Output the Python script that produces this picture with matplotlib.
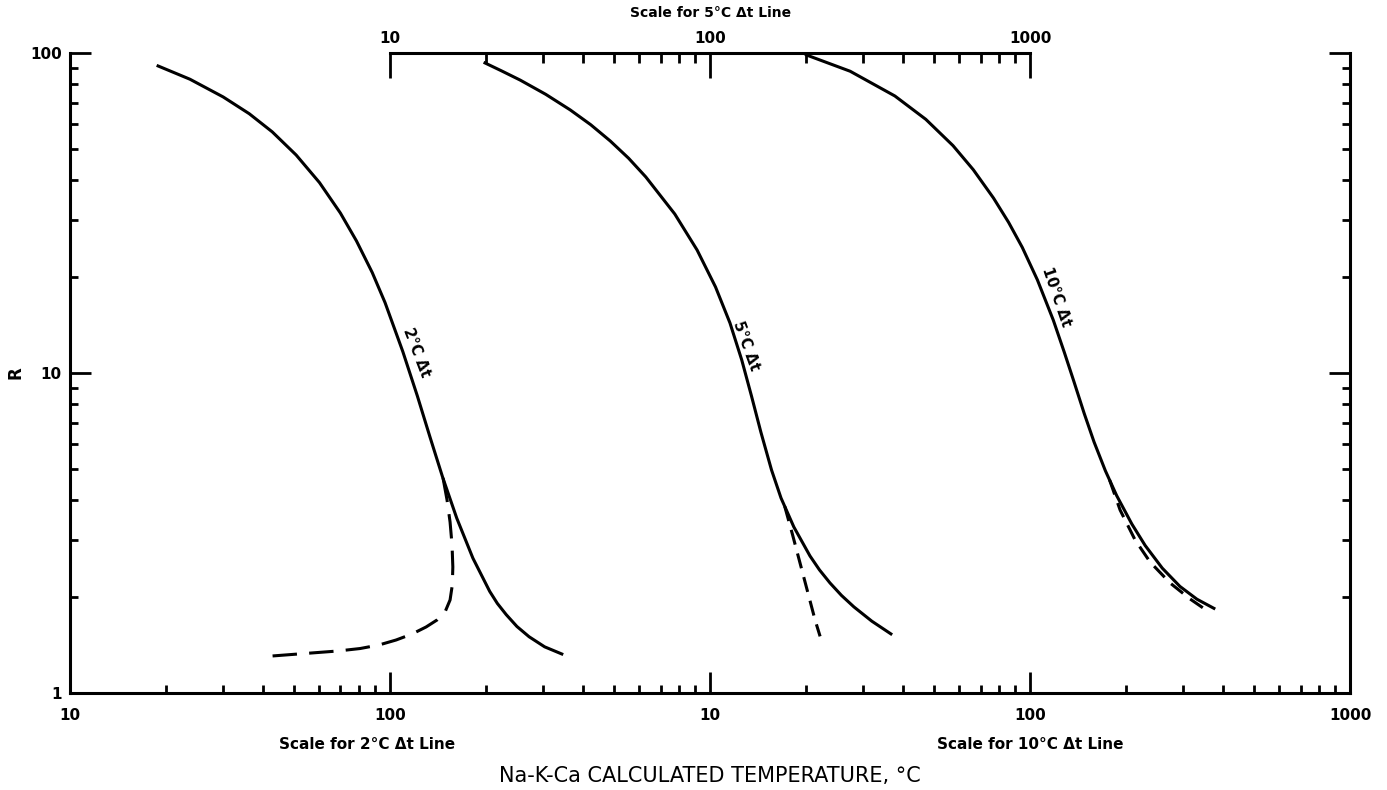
import matplotlib.pyplot as plt
import numpy as np
from matplotlib.ticker import NullFormatter

plt.rcParams['font.family'] = ['DejaVu Sans']

# 2 C delta-t line, read on the bottom left scale (T in C)
t2 = [18.84, 23.70, 30.09, 36.31, 42.84, 50.88, 60.18, 69.94, 78.52, 87.99, 96.47,
      109.6, 121.7, 133.3, 146.0, 161.6, 181.5, 204.8, 216.4, 230.7, 249.1, 271.9,
      304.1, 344.1]
r2 = [91.1, 82.8, 72.9, 64.6, 56.7, 48.0, 39.36, 31.62, 25.87, 20.59, 16.59,
      11.67, 8.477, 6.306, 4.722, 3.518, 2.638, 2.078, 1.905, 1.757, 1.614, 1.499,
      1.394, 1.324]
t2_dash = [146.4, 150.7, 154.0, 156.2, 157.1, 156.5, 154.0, 148.5, 140.2, 129.6,
           117.2, 104.4, 92.4, 80.6, 68.8, 54.3, 42.8]
r2_dash = [4.698, 4.009, 3.422, 2.901, 2.476, 2.175, 1.953, 1.791, 1.691, 1.608,
           1.529, 1.464, 1.413, 1.377, 1.353, 1.329, 1.305]

# 5 C delta-t line, read on the top scale
t5 = [19.8, 22.27, 25.50, 30.64, 36.56, 42.36, 48.76, 55.64, 62.96, 77.56, 91.08,
      104.0, 115.4, 125.6, 134.7, 144.1, 155.6, 166.6, 182.7, 205.2, 219.7, 237.0,
      257.4, 281.5, 320.1, 367.3]
r5 = [93.1, 88.0, 82.3, 74.3, 66.4, 59.7, 53.1, 46.9, 41.0, 31.4, 24.23,
      18.57, 14.33, 10.98, 8.477, 6.540, 4.977, 4.068, 3.303, 2.681, 2.425, 2.207,
      2.018, 1.858, 1.677, 1.530]
t5_dash = [171.1, 181.0, 191.1, 201.7, 212.9, 220.7]
r5_dash = [3.832, 3.124, 2.544, 2.074, 1.690, 1.503]

# 10 C delta-t line, read on the bottom right scale
t10 = [20.0, 27.40, 37.80, 47.22, 57.43, 66.45, 76.83, 85.66, 94.54, 105.4, 118.2,
       127.9, 136.9, 147.6, 158.4, 171.9, 186.5, 208.0, 228.9, 258.9, 293.9, 332.1,
       375.3]
r10 = [98.6, 87.7, 73.4, 62.05, 51.35, 43.18, 35.23, 29.57, 24.69, 19.54, 14.62,
       11.61, 9.441, 7.475, 6.092, 4.948, 4.136, 3.372, 2.890, 2.455, 2.153, 1.964,
       1.839]
t10_dash = [177.2, 191.1, 212.9, 237.1, 273.8, 316.2, 354.8]
r10_dash = [4.630, 3.731, 3.007, 2.567, 2.207, 1.967, 1.817]

# each curve sits on its own scale, shifted by a factor on the shared log axis
scale_factor = [1, 10, 100]
curve_labels = ['2°C Δt', '5°C Δt', '10°C Δt']
label_t = [120.6, 129.6, 120.5]
label_r = [11.6, 12.2, 17.3]
label_rot = [-69, -70, -71]

bottom_ticks = [10, 100, 1000, 10000, 100000]
bottom_labels = ['10', '100', '10', '100', '1000']
top_ticks = [10, 100, 1000]
top_minor = [20, 30, 40, 50, 60, 70, 80, 90, 200, 300, 400, 500, 600, 700, 800, 900]

fig = plt.figure(figsize=(13.87, 7.90), dpi=100)
ax = fig.add_axes([0.0505, 0.1228, 0.9229, 0.8101])
ax.set_xscale('log')
ax.set_yscale('log')

lw = 2.2
ax.plot(np.array(t2) * scale_factor[0], r2, 'k-', lw=lw)
ax.plot(np.array(t2_dash) * scale_factor[0], r2_dash, 'k--', lw=lw, dashes=(8, 4))
ax.plot(np.array(t5) * scale_factor[1], r5, 'k-', lw=lw)
ax.plot(np.array(t5_dash) * scale_factor[1], r5_dash, 'k--', lw=lw, dashes=(5, 3))
ax.plot(np.array(t10) * scale_factor[2], r10, 'k-', lw=lw)
ax.plot(np.array(t10_dash) * scale_factor[2], r10_dash, 'k--', lw=lw, dashes=(5, 3))

for lab, t, r, rot, f in zip(curve_labels, label_t, label_r, label_rot, scale_factor):
    ax.text(t * f, r, lab, rotation=rot, ha='center', va='center',
            fontsize=10.5, fontweight='bold')

ax.set_xlim(10, 100000)
ax.set_ylim(1, 100)

# bottom axis: two scales joined end to end
ax.set_xticks(bottom_ticks, labels=bottom_labels)
ax.xaxis.set_minor_formatter(NullFormatter())
ax.set_yticks([1, 10, 100], labels=['1', '10', '100'])
ax.yaxis.set_minor_formatter(NullFormatter())
ax.tick_params(which='both', direction='in', width=2, right=True, top=False)
ax.tick_params(which='major', length=15)
ax.tick_params(which='minor', length=6)
ax.tick_params(axis='x', pad=11, labelsize=11)
ax.tick_params(axis='y', pad=6, labelsize=11)
for lab in ax.get_xticklabels() + ax.get_yticklabels():
    lab.set_fontweight('bold')
ax.spines['top'].set_visible(False)
for s in ['left', 'right', 'bottom']:
    ax.spines[s].set_linewidth(2.2)

# top scale for the 5 C line
sec = ax.secondary_xaxis('top', functions=(lambda x: x / 10, lambda x: x * 10))
sec.set_xticks(top_ticks, labels=['10', '100', '1000'])
sec.set_xticks(top_minor, minor=True)
sec.xaxis.set_minor_formatter(NullFormatter())
sec.spines['top'].set_bounds(10, 1000)
sec.spines['top'].set_linewidth(2.2)
sec.tick_params(which='both', direction='in', width=2, labelsize=11, pad=5)
sec.tick_params(which='major', length=18)
sec.tick_params(which='minor', length=7)
for lab in sec.get_xticklabels():
    lab.set_fontweight('bold')
sec.set_xlabel('Scale for 5°C Δt Line', fontsize=10, fontweight='bold', labelpad=10)

ax.set_ylabel('R', fontsize=12, fontweight='bold', labelpad=4)
ax.set_xlabel('Na-K-Ca CALCULATED TEMPERATURE, °C', fontsize=15, labelpad=31)
fig.text(0.2646, 0.057, 'Scale for 2°C Δt Line', ha='center', va='center',
         fontsize=11, fontweight='bold')
fig.text(0.7426, 0.057, 'Scale for 10°C Δt Line', ha='center', va='center',
         fontsize=11, fontweight='bold')

plt.savefig('out.png', dpi=100)
